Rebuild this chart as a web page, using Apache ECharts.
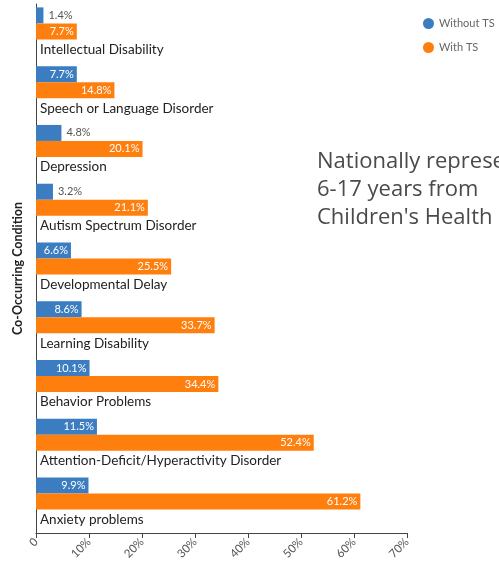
<!DOCTYPE html>
<html>
<head>
<meta charset="utf-8">
<script src="https://cdn.jsdelivr.net/npm/echarts@6/dist/echarts.min.js"></script>
<style>
  html, body { margin: 0; padding: 0; background: #fff; }
  #chart { width: 499px; height: 566px; }
</style>
</head>
<body>
<div id="chart"></div>
<script>
var conditions = ['Intellectual Disability', 'Speech or Language Disorder', 'Depression',
    'Autism Spectrum Disorder', 'Developmental Delay', 'Learning Disability',
    'Behavior Problems', 'Attention-Deficit/Hyperactivity Disorder', 'Anxiety problems'];
var withoutTS = [1.4, 7.7, 4.8, 3.2, 6.6, 8.6, 10.1, 11.5, 9.9];
var withTS = [7.7, 14.8, 20.1, 21.1, 25.5, 33.7, 34.4, 52.4, 61.2];
var xTicks = [0, 10, 20, 30, 40, 50, 60, 70];

var blue = '#3b7dc0';
var orange = '#ff7f0e';
var font = 'Lato';

// small blue bars get their label outside, in grey
var blueData = withoutTS.map(function (v) {
    var inside = v >= 5;
    return {
        value: v,
        label: {
            position: inside ? 'insideRight' : 'right',
            color: inside ? '#fff' : '#555',
            distance: inside ? 3 : 5
        }
    };
});

var option = {
    backgroundColor: '#fff',
    textStyle: { fontFamily: font },
    animation: false,
    legend: {
        data: ['Without TS', 'With TS'],
        orient: 'vertical',
        left: 418,
        top: 13,
        icon: 'circle',
        itemWidth: 11,
        itemHeight: 11,
        itemGap: 13,
        textStyle: { fontSize: 11, color: '#666', fontFamily: font }
    },
    graphic: [{
        type: 'text',
        left: 317,
        top: 148,
        style: {
            text: 'Nationally representative sample,\n6-17 years from\nChildren\'s Health Survey',
            font: '22px "Open Sans"',
            fill: '#4a4a4a',
            lineHeight: 28
        }
    }],
    grid: { left: 36, right: 92, top: 4, bottom: 33 },
    xAxis: {
        type: 'value',
        min: 0,
        max: 70,
        interval: 10,
        axisLine: { show: true, lineStyle: { color: '#444' } },
        axisTick: { show: true, length: 5, lineStyle: { color: '#444' } },
        splitLine: { show: false },
        axisLabel: {
            rotate: 45,
            fontSize: 11.5,
            color: '#555',
            margin: 7,
            formatter: function (v) {
                return xTicks.indexOf(v) < 0 ? '' : (v === 0 ? '0' : v + '%');
            }
        }
    },
    yAxis: {
        type: 'category',
        data: conditions,
        inverse: true,
        name: 'Co-Occurring Condition',
        nameLocation: 'middle',
        nameGap: 12,
        nameTextStyle: { fontSize: 12.5, fontWeight: 'bold', color: '#222', fontFamily: font },
        axisLine: { show: true, lineStyle: { color: '#444' } },
        axisTick: { show: false },
        axisLabel: { show: false }
    },
    series: [
        {
            name: 'Without TS',
            type: 'bar',
            barWidth: 16,
            barGap: '0%',
            itemStyle: { color: blue },
            label: {
                show: true,
                fontSize: 11,
                fontFamily: font,
                formatter: '{c}%'
            },
            data: blueData
        },
        {
            name: 'With TS',
            type: 'bar',
            barWidth: 16,
            itemStyle: { color: orange },
            label: {
                show: true,
                position: 'insideRight',
                distance: 3,
                fontSize: 11,
                color: '#fff',
                fontFamily: font,
                formatter: '{c}%'
            },
            data: withTS
        },
        {
            // invisible series that carries the category names under each pair
            name: 'names',
            type: 'bar',
            barWidth: 20,
            silent: true,
            itemStyle: { color: 'rgba(0,0,0,0)' },
            label: {
                show: true,
                position: 'right',
                distance: 4,
                fontSize: 13.5,
                color: '#222',
                fontFamily: font,
                formatter: function (p) { return conditions[p.dataIndex]; }
            },
            data: conditions.map(function () { return 0; })
        }
    ]
};

var chart = echarts.init(document.getElementById('chart'));
chart.setOption(option);
</script>
</body>
</html>
